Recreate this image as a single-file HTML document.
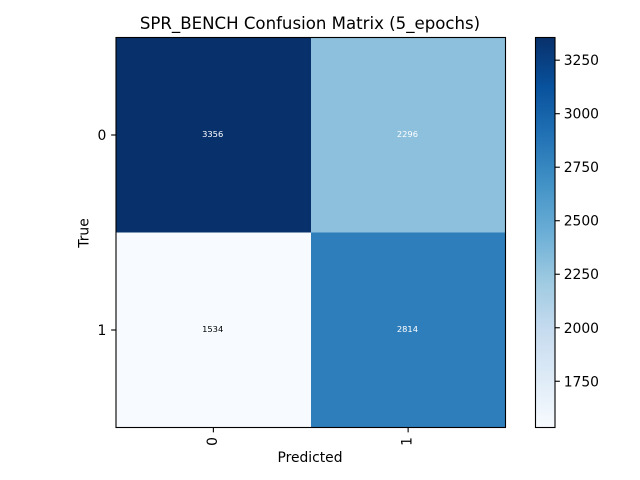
<!DOCTYPE html>
<html lang="en">
<head>
<meta charset="utf-8">
<title>SPR_BENCH Confusion Matrix (5_epochs)</title>
<style>
html,body{margin:0;padding:0;background:#fff;width:640px;height:480px;overflow:hidden}
svg{display:block}
text{font-family:"DejaVu Sans",sans-serif;fill:#000}
</style>
</head>
<body>
<svg id="chart" xmlns="http://www.w3.org/2000/svg" width="640" height="480" viewBox="0 0 640 480">
<defs><linearGradient id="blues-gradient" x1="0" y1="1" x2="0" y2="0"></linearGradient></defs>
<text x="310" y="29" font-size="16.6" text-anchor="middle">SPR_BENCH Confusion Matrix (5_epochs)</text>
<text x="310" y="462" font-size="13.85" text-anchor="middle">Predicted</text>
<text transform="translate(88.5 233) rotate(-90)" font-size="13.89" text-anchor="middle">True</text>
<g id="cells"></g>
<g id="ticks"></g>
<rect x="116" y="37.5" width="389.5" height="390" fill="none" stroke="#000" stroke-width="1.11"/>
<rect id="cbar" x="535.5" y="37.5" width="19.5" height="390" fill="url(#blues-gradient)"/>
<rect x="535.5" y="37.5" width="19.5" height="390" fill="none" stroke="#000" stroke-width="1.11"/>
<g id="cbar-ticks"></g>
</svg>
<script>
const predictedLabels = ['0', '1'];
const trueLabels = ['0', '1'];
const row0Values = [3356, 2296];
const row1Values = [1534, 2814];
const colorbarTicks = [1750, 2000, 2250, 2500, 2750, 3000, 3250];

const NS = 'http://www.w3.org/2000/svg';
const matrix = [row0Values, row1Values];
const bluesMap = ['#f7fbff', '#deebf7', '#c6dbef', '#9ecae1', '#6baed6', '#4292c6', '#2171b5', '#08519c', '#08306b'];
const plot = { left: 116, right: 505.5, top: 37.5, bottom: 427.5 };
const allValues = matrix.flat();
const vMin = Math.min(...allValues);
const vMax = Math.max(...allValues);

function make(tag, attrs, parent) {
  const el = document.createElementNS(NS, tag);
  for (const key in attrs) el.setAttribute(key, attrs[key]);
  parent.appendChild(el);
  return el;
}
function hexToRgb(h) {
  return [1, 3, 5].map(i => parseInt(h.slice(i, i + 2), 16));
}
function colorFor(v) {
  const t = Math.max(0, Math.min(1, (v - vMin) / (vMax - vMin))) * (bluesMap.length - 1);
  const i = Math.min(Math.floor(t), bluesMap.length - 2);
  const a = hexToRgb(bluesMap[i]);
  const b = hexToRgb(bluesMap[i + 1]);
  const c = a.map((x, k) => Math.round(x + (b[k] - x) * (t - i)));
  return 'rgb(' + c.join(',') + ')';
}
function xPos(col) {
  return plot.left + (col + 0.5) / predictedLabels.length * (plot.right - plot.left);
}
function yPos(row) {
  return plot.top + (row + 0.5) / trueLabels.length * (plot.bottom - plot.top);
}
function cbarY(v) {
  return plot.bottom - (v - vMin) / (vMax - vMin) * (plot.bottom - plot.top);
}

const gradient = document.getElementById('blues-gradient');
bluesMap.forEach((c, i) => {
  make('stop', { offset: i / (bluesMap.length - 1), 'stop-color': c }, gradient);
});

const cellsGroup = document.getElementById('cells');
const cellW = (plot.right - plot.left) / predictedLabels.length;
const cellH = (plot.bottom - plot.top) / trueLabels.length;
matrix.forEach((rowVals, r) => {
  rowVals.forEach((v, c) => {
    const cell = make('rect', {
      x: plot.left + c * cellW,
      y: plot.top + r * cellH,
      width: cellW,
      height: cellH,
      fill: colorFor(v),
      'shape-rendering': 'crispEdges'
    }, cellsGroup);
    
    
  });
});
matrix.forEach((rowVals, r) => {
  rowVals.forEach((v, c) => {
    const label = make('text', {
      x: xPos(c) - 0.7,
      y: yPos(r) + 2.2,
      'font-size': 8.33,
      'text-anchor': 'middle'
    }, cellsGroup);
    label.style.fill = v > vMax / 2 ? '#fff' : '#000';
    label.textContent = String(v);
    
    
  });
});

const ticksGroup = document.getElementById('ticks');
predictedLabels.forEach((name, c) => {
  const x = xPos(c);
  const tick = make('line', { x1: x, x2: x, y1: plot.bottom, y2: plot.bottom + 4.86, stroke: '#000', 'stroke-width': 1.11 }, ticksGroup);
  
  
  const label = make('text', {
    transform: 'translate(' + (x + 3.5) + ' ' + (plot.bottom + 9.5) + ') rotate(-90)',
    'font-size': 13.89,
    'text-anchor': 'end'
  }, ticksGroup);
  label.textContent = name;
  
  
});
trueLabels.forEach((name, r) => {
  const y = yPos(r);
  const tick = make('line', { x1: plot.left - 4.86, x2: plot.left, y1: y, y2: y, stroke: '#000', 'stroke-width': 1.11 }, ticksGroup);
  
  
  const label = make('text', {
    x: plot.left - 9.7,
    y: y + 5,
    'font-size': 13.89,
    'text-anchor': 'end'
  }, ticksGroup);
  label.textContent = name;
  
  
});

const cbarTicksGroup = document.getElementById('cbar-ticks');
colorbarTicks.forEach(v => {
  const y = cbarY(v);
  const tick = make('line', { x1: 555, x2: 559.86, y1: y, y2: y, stroke: '#000', 'stroke-width': 1.11 }, cbarTicksGroup);
  
  
  const label = make('text', {
    x: 563.7,
    y: y + 5,
    'font-size': 13.89
  }, cbarTicksGroup);
  label.textContent = String(v);
  
  
});
</script>
</body>
</html>
